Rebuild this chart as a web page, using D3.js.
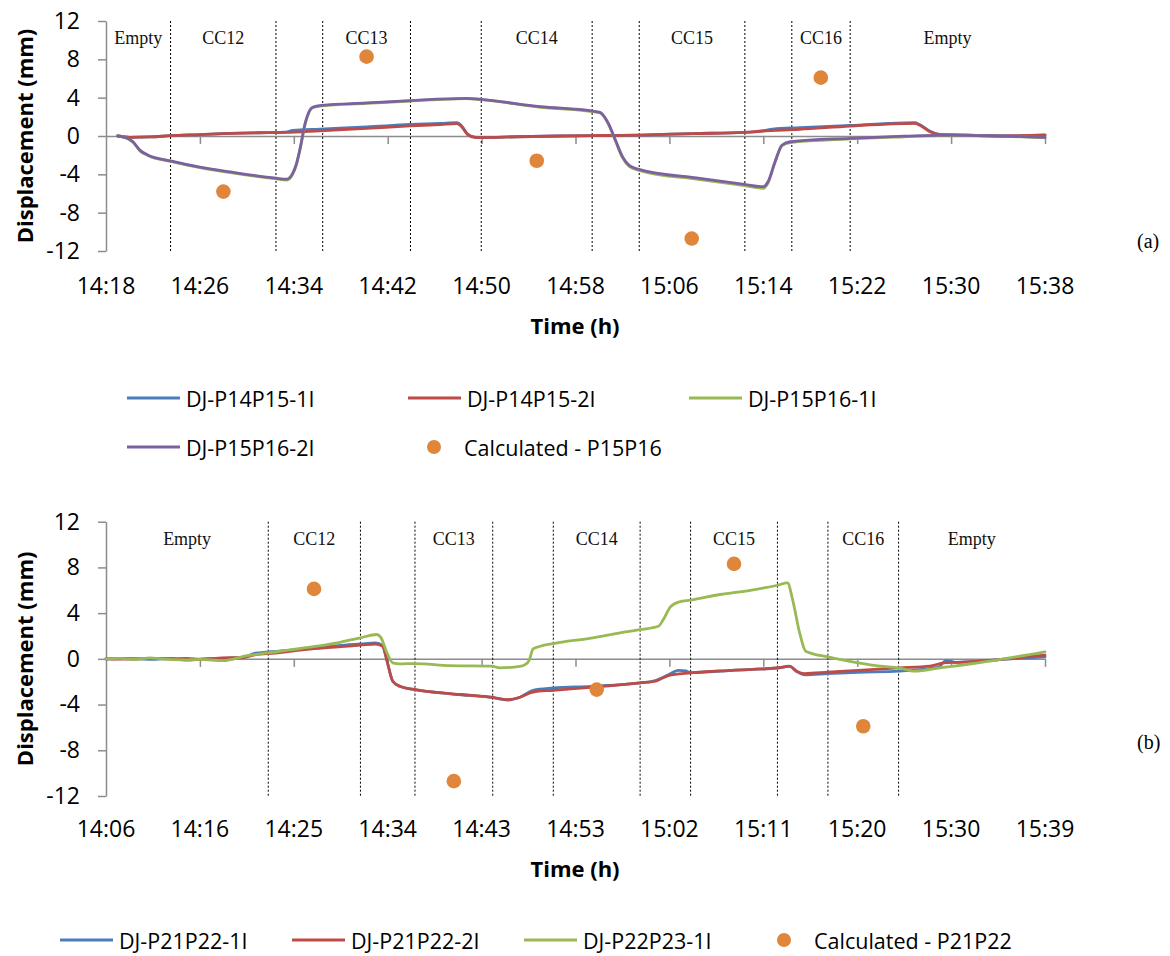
<!DOCTYPE html>
<html>
<head>
<meta charset="utf-8">
<script src="https://cdn.jsdelivr.net/npm/d3@7/dist/d3.min.js"></script>
<style>
  html, body { margin: 0; padding: 0; background: #ffffff; }
  svg { display: block; }
</style>
</head>
<body>
<svg id="chart" width="1170" height="956"></svg>
<script>
// Times are minutes since midnight (e.g. 858 = 14:18); displacements in mm.

// ---------- Panel (a): joints P14P15 / P15P16 ----------
const aDomain = [858, 938];
const aTickLabels = ["14:18", "14:26", "14:34", "14:42", "14:50", "14:58", "15:06", "15:14", "15:22", "15:30", "15:38"];
const aPhases = [
  { label: "Empty", start: 858,    end: 863.5,  loaded: false },
  { label: "CC12",  start: 863.5,  end: 872.48, loaded: true },
  { label: "CC13",  start: 876.46, end: 883.94, loaded: true },
  { label: "CC14",  start: 889.97, end: 899.42, loaded: true },
  { label: "CC15",  start: 903.43, end: 912.43, loaded: true },
  { label: "CC16",  start: 916.43, end: 921.4,  loaded: true },
  { label: "Empty", start: 921.4,  end: 938,    loaded: false }
];
const aP14P15_1I = [
  [859.0, 0], [860.0, -0.14], [861.8, -0.1], [863.5, 0.03], [866.0, 0.15], [868.6, 0.28],
  [871.0, 0.34], [873.3, 0.4], [873.9, 0.58], [876.2, 0.72], [880.2, 0.95], [883.9, 1.2],
  [886.5, 1.32], [887.9, 1.4], [888.3, 1.05], [888.8, 0.2], [889.4, -0.12], [889.9, -0.17],
  [893.0, -0.08], [896.7, 0.0], [900.0, 0.05], [903.5, 0.1], [908.0, 0.25], [912.4, 0.38],
  [913.9, 0.52], [914.8, 0.72], [917.1, 0.87], [921.4, 1.1], [926.9, 1.38], [927.3, 1.2],
  [928.2, 0.5], [929.0, 0.17], [931.5, 0.1], [934.2, 0.0], [938.0, 0.08]
];
const aP14P15_2I = [
  [859.0, 0], [860.0, -0.14], [861.8, -0.1], [863.5, 0.03], [866.0, 0.15], [868.6, 0.28],
  [871.0, 0.34], [873.3, 0.38], [876.2, 0.55], [880.2, 0.8], [883.9, 1.05], [886.5, 1.2],
  [887.9, 1.3], [888.3, 0.97], [888.8, 0.17], [889.4, -0.14], [889.9, -0.17], [893.0, -0.08],
  [896.7, 0.0], [900.0, 0.05], [903.5, 0.1], [908.0, 0.25], [912.4, 0.38], [913.9, 0.52],
  [917.1, 0.7], [921.4, 1.04], [926.9, 1.32], [927.3, 1.15], [928.2, 0.45], [929.0, 0.17],
  [931.5, 0.08], [934.2, 0.0], [938.0, 0.12]
];
const aP15P16_1I = [
  [859.0, 0], [859.5, -0.1], [860.3, -0.65], [860.9, -1.55], [861.6, -2.05], [863.5, -2.65],
  [866.0, -3.3], [868.6, -3.82], [872.5, -4.48], [873.4, -4.6], [873.9, -4.0], [874.2, -3.1],
  [874.5, -1.6], [875.0, 1.4], [875.6, 2.95], [876.4, 3.15], [880.2, 3.4], [883.9, 3.65],
  [888.7, 3.9], [889.9, 3.8], [895.0, 3.0], [899.4, 2.55], [900.1, 2.4], [900.8, 1.25],
  [901.4, -0.5], [902.0, -2.25], [902.6, -3.2], [903.4, -3.58], [908.6, -4.55], [912.4, -5.18],
  [914.0, -5.45], [914.4, -4.9], [915.0, -2.75], [915.6, -1.0], [916.3, -0.68], [921.4, -0.3],
  [926.0, -0.08], [929.9, 0.08], [934.2, -0.02], [938.0, -0.18]
];
const aP15P16_2I = [
  [859.0, 0], [859.5, -0.1], [860.3, -0.6], [860.9, -1.5], [861.6, -2.0], [863.5, -2.6],
  [866.0, -3.25], [868.6, -3.75], [872.5, -4.4], [873.4, -4.5], [873.9, -3.9], [874.2, -3.0],
  [874.5, -1.5], [875.0, 1.5], [875.6, 3.0], [876.4, 3.2], [880.2, 3.45], [883.9, 3.7],
  [888.7, 3.93], [889.9, 3.83], [895.0, 3.06], [899.4, 2.61], [900.1, 2.47], [900.8, 1.32],
  [901.4, -0.42], [902.0, -2.16], [902.6, -3.1], [903.4, -3.48], [908.6, -4.42], [912.4, -5.04],
  [914.0, -5.29], [914.4, -4.77], [915.0, -2.68], [915.6, -0.94], [916.3, -0.6], [921.4, -0.24],
  [926.0, -0.02], [929.9, 0.1], [934.2, 0.0], [938.0, -0.14]
];
const aCalcTimes  = [868.0, 880.2, 894.7, 907.9, 918.9];
const aCalcValues = [-5.8, 8.28, -2.58, -10.7, 6.09];

// ---------- Panel (b): joints P21P22 / P22P23 ----------
const bDomain = [846, 939];
const bTickLabels = ["14:06", "14:16", "14:25", "14:34", "14:43", "14:53", "15:02", "15:11", "15:20", "15:30", "15:39"];
const bPhases = [
  { label: "Empty", start: 846,   end: 862.07, loaded: false },
  { label: "CC12",  start: 862.07, end: 871.2, loaded: true },
  { label: "CC13",  start: 876.6, end: 884.3,  loaded: true },
  { label: "CC14",  start: 890.3, end: 898.9,  loaded: true },
  { label: "CC15",  start: 903.9, end: 912.5,  loaded: true },
  { label: "CC16",  start: 917.5, end: 924.5,  loaded: true },
  { label: "Empty", start: 924.5, end: 939,    loaded: false }
];
const bP21P22_1I = [
  [846.0, 0], [848.0, 0.03], [850.5, -0.05], [852.5, 0.05], [854.0, -0.12], [855.5, 0.0],
  [857.5, 0.05], [859.5, 0.1], [860.8, 0.5], [862.0, 0.6], [866.2, 0.9], [869.0, 1.15],
  [871.2, 1.3], [872.7, 1.4], [873.4, 1.15], [873.8, -0.06], [874.4, -1.96], [875.1, -2.4],
  [876.6, -2.7], [880.1, -3.06], [882.0, -3.2], [884.2, -3.38], [885.8, -3.6], [887.0, -3.36],
  [888.3, -2.75], [890.3, -2.55], [894.0, -2.4], [898.9, -2.1], [900.4, -1.9], [901.7, -1.4],
  [902.7, -1.0], [903.4, -1.05], [903.9, -1.2], [908.0, -1.0], [912.5, -0.8], [913.7, -0.66],
  [914.4, -1.1], [915.2, -1.4], [917.5, -1.3], [920.5, -1.18], [924.5, -1.08], [928.4, -0.75],
  [929.2, -0.15], [930.1, -0.3], [934.5, -0.06], [939.0, 0.17]
];
const bP21P22_2I = [
  [846.0, 0], [848.0, -0.03], [850.5, 0.04], [852.5, 0.0], [854.0, 0.05], [855.5, -0.05],
  [857.5, 0.08], [859.5, 0.12], [861.0, 0.4], [862.0, 0.45], [866.2, 0.85], [869.0, 1.05],
  [871.2, 1.2], [872.7, 1.3], [873.4, 1.1], [873.8, -0.06], [874.4, -1.96], [875.1, -2.4],
  [876.6, -2.69], [880.1, -3.04], [882.0, -3.18], [884.2, -3.36], [885.8, -3.56], [887.0, -3.36],
  [888.3, -2.9], [890.3, -2.75], [894.0, -2.5], [898.9, -2.1], [900.4, -1.96], [901.7, -1.46],
  [903.9, -1.23], [908.0, -1.0], [912.5, -0.79], [913.7, -0.64], [914.4, -1.08], [915.2, -1.29],
  [917.5, -1.17], [920.5, -1.0], [924.5, -0.79], [927.6, -0.64], [929.0, -0.35], [930.5, -0.3],
  [934.5, -0.06], [939.0, 0.32]
];
const bP22P23_1I = [
  [846.0, 0], [847.4, 0.05], [848.9, -0.05], [850.4, 0.08], [851.4, 0.0], [853.8, -0.1],
  [855.3, -0.05], [857.6, -0.15], [860.0, 0.29], [862.0, 0.52], [866.2, 1.02], [869.2, 1.45],
  [871.2, 1.84], [872.8, 2.13], [873.2, 1.9], [873.8, 0.6], [874.4, -0.35], [875.1, -0.44],
  [876.6, -0.41], [880.1, -0.59], [884.2, -0.64], [885.0, -0.79], [887.0, -0.65], [887.5, -0.5],
  [887.9, -0.15], [888.3, 0.87], [889.0, 1.1], [890.3, 1.34], [893.9, 1.8], [896.9, 2.27],
  [898.9, 2.56], [900.7, 2.85], [901.2, 3.44], [901.9, 4.55], [902.8, 4.99], [903.9, 5.13],
  [906.8, 5.63], [909.8, 6.0], [912.5, 6.44], [913.5, 6.65], [914.0, 5.19], [914.7, 2.27],
  [915.3, 0.67], [917.5, 0.17], [920.5, -0.35], [922.7, -0.64], [924.5, -0.79], [926.1, -1.08],
  [928.6, -0.79], [934.5, -0.06], [939.0, 0.61]
];
const bCalcTimes  = [866.6, 880.45, 894.6, 908.2, 921.0];
const bCalcValues = [6.12, -10.7, -2.69, 8.31, -5.9];

const yTickValues = [-12, -8, -4, 0, 4, 8, 12];

// ---------- drawing ----------
const COLORS = {
  blue: "#4A7EBB",
  red: "#BE4B48",
  green: "#98B954",
  purple: "#7D60A0",
  orange: "#E0863A",
  axis: "#8C8C8C"
};
const TICK_FONT = "'Open Sans', 'Noto Sans', sans-serif";
const LABEL_FONT = "'Liberation Serif', 'Times New Roman', serif";

const svg = d3.select("#chart");
svg.append("rect").attr("width", 1170).attr("height", 956).attr("fill", "#fff");

function drawPanel(cfg) {
  const g = svg.append("g");
  const x = d3.scaleLinear().domain(cfg.domain).range([106, 1045]);
  const y = d3.scaleLinear().domain([-12, 12]).range([cfg.bottom, cfg.top]);

  // y axis
  const yAxis = g.append("g")
    .attr("transform", "translate(106,0)")
    .call(d3.axisLeft(y).tickValues(yTickValues).tickSize(8).tickSizeOuter(0).tickPadding(18)
      .tickFormat(d3.format("d")));
  yAxis.select(".domain").attr("stroke", COLORS.axis).attr("stroke-width", 1.5);
  yAxis.selectAll(".tick line").attr("stroke", COLORS.axis).attr("stroke-width", 1.5);
  yAxis.selectAll(".tick text")
    .attr("font-family", TICK_FONT).attr("font-size", 23).attr("fill", "#000")
    .text(d => d < 0 ? "-" + Math.abs(d) : d);

  // x axis along the zero line, tick marks pointing down
  const n = cfg.tickLabels.length;
  const step = (cfg.domain[1] - cfg.domain[0]) / (n - 1);
  const tickVals = d3.range(n).map(i => cfg.domain[0] + i * step);
  const xAxis = g.append("g")
    .attr("transform", `translate(0,${y(0)})`)
    .call(d3.axisBottom(x).tickValues(tickVals.slice(1)).tickSize(8).tickSizeOuter(0).tickFormat(""));
  xAxis.select(".domain").attr("stroke", COLORS.axis).attr("stroke-width", 1.5);
  xAxis.selectAll(".tick line").attr("stroke", COLORS.axis).attr("stroke-width", 1.5);

  // time labels at the bottom of the plot
  g.append("g").selectAll("text")
    .data(tickVals)
    .join("text")
    .attr("x", d => x(d))
    .attr("y", cfg.labelY)
    .attr("text-anchor", "middle")
    .attr("dominant-baseline", "central")
    .attr("font-family", TICK_FONT).attr("font-size", 23).attr("fill", "#000")
    .text((d, i) => cfg.tickLabels[i]);

  // axis titles
  g.append("text")
    .attr("x", 575).attr("y", cfg.titleY)
    .attr("text-anchor", "middle").attr("dominant-baseline", "central")
    .attr("font-family", TICK_FONT).attr("font-size", 22).attr("font-weight", "bold")
    .text("Time (h)");
  g.append("text")
    .attr("transform", `translate(24,${(cfg.top + cfg.bottom) / 2}) rotate(-90)`)
    .attr("text-anchor", "middle").attr("dominant-baseline", "central")
    .attr("font-family", TICK_FONT).attr("font-size", 22).attr("font-weight", "bold")
    .text("Displacement (mm)");

  // loading-phase boundaries
  const bounds = [];
  cfg.phases.filter(p => p.loaded).forEach(p => { bounds.push(p.start, p.end); });
  g.append("g").selectAll("line")
    .data(bounds)
    .join("line")
    .attr("x1", d => x(d)).attr("x2", d => x(d))
    .attr("y1", cfg.top).attr("y2", cfg.bottom)
    .attr("stroke", "#000").attr("stroke-width", 1).attr("stroke-dasharray", "2,2");

  // phase labels
  g.append("g").selectAll("text")
    .data(cfg.phases)
    .join("text")
    .attr("x", d => x((d.start + d.end) / 2))
    .attr("y", cfg.top + 17)
    .attr("text-anchor", "middle").attr("dominant-baseline", "central")
    .attr("font-family", LABEL_FONT).attr("font-size", 18).attr("fill", "#111")
    .text(d => d.label);

  // measured series
  const line = d3.line().x(d => x(d[0])).y(d => y(d[1])).curve(d3.curveMonotoneX);
  cfg.series.forEach(s => {
    g.append("path")
      .datum(s.data)
      .attr("d", line)
      .attr("fill", "none")
      .attr("stroke", s.color)
      .attr("stroke-width", 2.8)
      .attr("stroke-linejoin", "round")
      .attr("stroke-linecap", "round");
  });

  // calculated values
  g.append("g").selectAll("circle")
    .data(cfg.calcTimes.map((t, i) => [t, cfg.calcValues[i]]))
    .join("circle")
    .attr("cx", d => x(d[0])).attr("cy", d => y(d[1]))
    .attr("r", 7.3).attr("fill", COLORS.orange);

  // panel tag
  g.append("text")
    .attr("x", 1137).attr("y", cfg.tagY)
    .attr("dominant-baseline", "central")
    .attr("font-family", LABEL_FONT).attr("font-size", 20).attr("fill", "#000")
    .text(cfg.tag);

  // legend
  const lg = g.append("g");
  cfg.legend.forEach(item => {
    if (item.type === "line") {
      lg.append("line")
        .attr("x1", item.x).attr("x2", item.x + 53)
        .attr("y1", item.y).attr("y2", item.y)
        .attr("stroke", item.color).attr("stroke-width", 2.8);
      lg.append("text")
        .attr("x", item.x + 59).attr("y", item.y)
        .attr("dominant-baseline", "central")
        .attr("font-family", TICK_FONT).attr("font-size", 21.5).attr("fill", "#000")
        .text(item.name);
    } else {
      lg.append("circle")
        .attr("cx", item.x).attr("cy", item.y).attr("r", 7).attr("fill", item.color);
      lg.append("text")
        .attr("x", item.x + 30).attr("y", item.y)
        .attr("dominant-baseline", "central")
        .attr("font-family", TICK_FONT).attr("font-size", 21.5).attr("fill", "#000")
        .text(item.name);
    }
  });
}

drawPanel({
  domain: aDomain,
  tickLabels: aTickLabels,
  phases: aPhases,
  top: 21, bottom: 251,
  labelY: 285, titleY: 325, tagY: 241, tag: "(a)",
  series: [
    { data: aP14P15_1I, color: COLORS.blue },
    { data: aP14P15_2I, color: COLORS.red },
    { data: aP15P16_1I, color: COLORS.green },
    { data: aP15P16_2I, color: COLORS.purple }
  ],
  calcTimes: aCalcTimes, calcValues: aCalcValues,
  legend: [
    { type: "line", name: "DJ-P14P15-1I", color: COLORS.blue, x: 127, y: 398 },
    { type: "line", name: "DJ-P14P15-2I", color: COLORS.red, x: 408, y: 398 },
    { type: "line", name: "DJ-P15P16-1I", color: COLORS.green, x: 689, y: 398 },
    { type: "line", name: "DJ-P15P16-2I", color: COLORS.purple, x: 127, y: 447 },
    { type: "dot", name: "Calculated - P15P16", color: COLORS.orange, x: 434, y: 447 }
  ]
});

drawPanel({
  domain: bDomain,
  tickLabels: bTickLabels,
  phases: bPhases,
  top: 521.7, bottom: 796,
  labelY: 828, titleY: 868, tagY: 742, tag: "(b)",
  series: [
    { data: bP21P22_1I, color: COLORS.blue },
    { data: bP21P22_2I, color: COLORS.red },
    { data: bP22P23_1I, color: COLORS.green }
  ],
  calcTimes: bCalcTimes, calcValues: bCalcValues,
  legend: [
    { type: "line", name: "DJ-P21P22-1I", color: COLORS.blue, x: 60, y: 940 },
    { type: "line", name: "DJ-P21P22-2I", color: COLORS.red, x: 292, y: 940 },
    { type: "line", name: "DJ-P22P23-1I", color: COLORS.green, x: 524, y: 940 },
    { type: "dot", name: "Calculated - P21P22", color: COLORS.orange, x: 784, y: 940 }
  ]
});
</script>
</body>
</html>
